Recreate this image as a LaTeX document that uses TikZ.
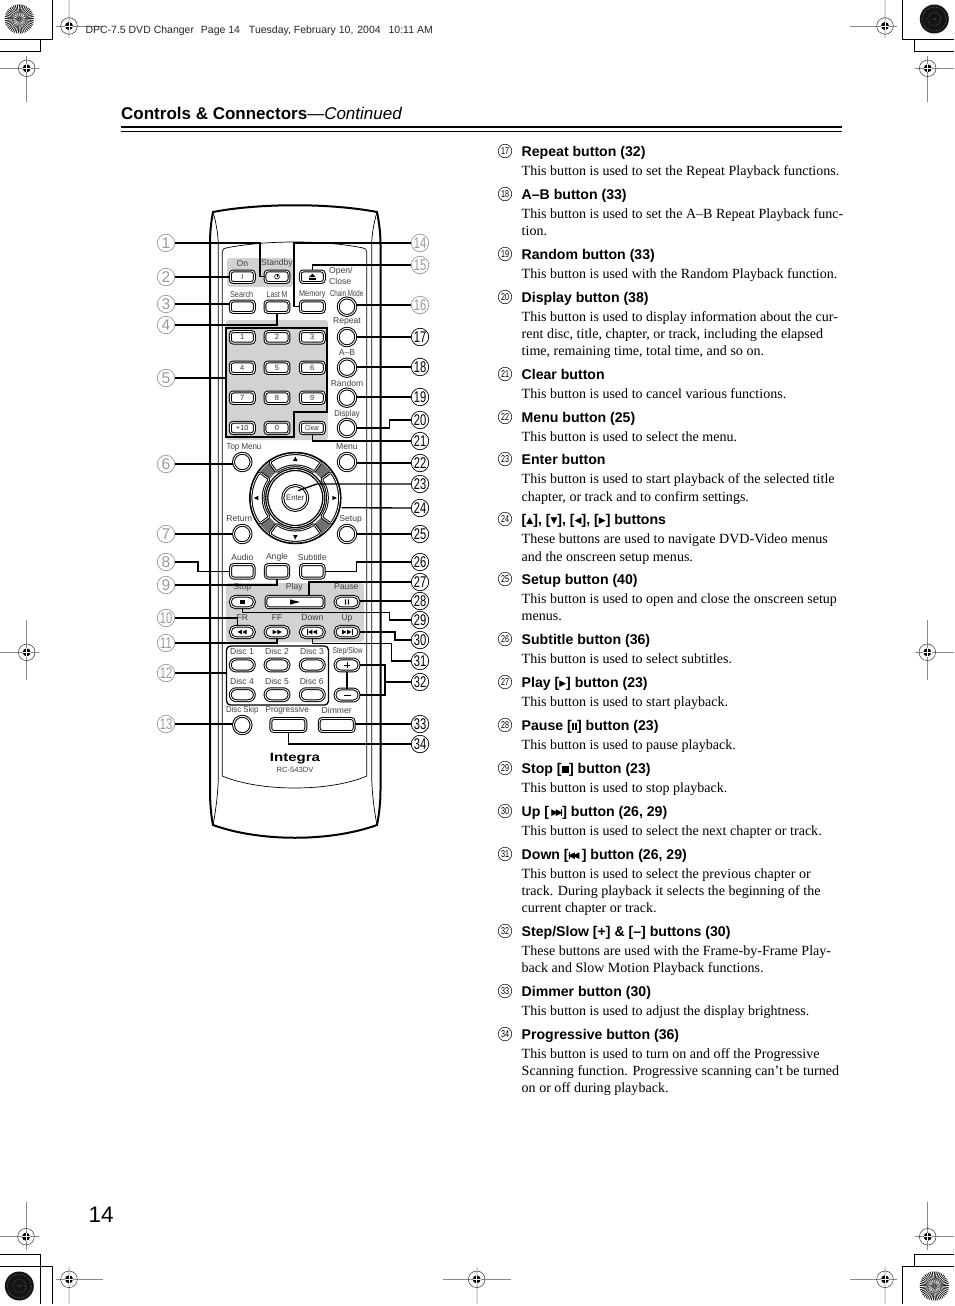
\documentclass[tikz,border=0pt]{standalone}
\usepackage{fontspec}
\usepackage{graphicx}
\setmainfont{Liberation Serif}
\setsansfont{Liberation Sans}
\newfontfamily\symf{DejaVu Sans}
\usetikzlibrary{calc}
\definecolor{panelgray}{HTML}{D2D2D2}
\definecolor{wedgegray}{HTML}{707070}
\definecolor{callgray}{HTML}{9A9A9A}
\definecolor{marklight}{HTML}{D8D8D8}
\definecolor{markdark}{HTML}{8A8A8A}
\newcommand\fsz[1]{\fontsize{#1}{#1}\selectfont}
\newcount\bodyc
\newcommand\hd[3]{%
  \node[numc] (n#1) at (505,#2-5) {\scalebox{.72}[1]{#1}};
  \node[headt] (h#1) at (521.5,#2) {#3};}
\newcommand\bd[2]{\global\advance\bodyc by 1
  \node[bodyt] (body\the\bodyc) at (521.5,#1) {#2};}
\newcommand\gly[1]{{\symf\fsz{9}\raisebox{.3pt}{#1}}}
\newcommand\tR{\gly{▶}}
\newcommand\tL{\gly{◀}}
\newcommand\regm[6]{%
  \draw[marktk] (#1,#5) -- (#1,#6);
  \draw[markhl] (#3,#2) -- (#4,#2);
  \draw[line width=.5,draw=black!80] (#1,#2) circle (8.3);
  \fill (#1,#2) circle (4);
  \draw[white,line width=.8] (#1-4.2,#2) -- (#1+4.2,#2) (#1,#2-4.2) -- (#1,#2+4.2);}
\newcommand\regmT[6]{%
  \draw[markv] (#1,#5) -- (#1,#6);
  \draw[markhl] (#3,#2) -- (#4,#2);
  \draw[line width=.5,draw=black!80] (#1,#2) circle (8.3);
  \fill (#1,#2) circle (4);
  \draw[white,line width=.8] (#1-4.2,#2) -- (#1+4.2,#2) (#1,#2-4.2) -- (#1,#2+4.2);}
\newcommand\burst[2]{%
  \begin{scope}[shift={(#1,#2)}]
    \fill[black] (0,0) circle (14.5);
    \foreach \a in {0,8,...,352}{
      \fill[white] (\a:14.6) -- (\a+3.6:14.6) -- (\a+1.8:3) -- cycle;}
    \foreach \a in {6,30,...,342}{
      \fill[white] (\a:6) -- (\a+8:6) -- (\a+4:1) -- cycle;}
    \fill[black!40] (0,0) circle (1);
  \end{scope}}
\newcommand\darkdisc[2]{%
  \begin{scope}[shift={(#1,#2)}]
    \fill[black!92] (0,0) circle (14.5);
    \draw[black!55,line width=.5,dash pattern=on .8 off 1.2] (0,0) circle (6.5);
    \draw[black!55,line width=.5,dash pattern=on .8 off 1.2] (0,0) circle (12);
    \fill[black!50] (-1.2,0) circle (.6) (1.2,0) circle (.6);
  \end{scope}}
\newcommand\trL[1]{\fill[xshift=#1 pt] (-2.2,0) -- (2.2,-2.3) -- (2.2,2.3) -- cycle;}
\newcommand\trR[1]{\fill[xshift=#1 pt] (2.2,0) -- (-2.2,-2.3) -- (-2.2,2.3) -- cycle;}
\tikzset{
  numc/.style={circle,draw,line width=.5,minimum size=13.5,inner sep=0,font=\sffamily\fsz{10}},
  headt/.style={anchor=base west,inner sep=0,font=\sffamily\bfseries\fsz{14.1}},
  bodyt/.style={anchor=base west,inner sep=0,font=\rmfamily\fsz{14.05}},
  markhl/.style={draw=markdark,line width=.6},
  marktk/.style={draw=marklight,line width=1.6},
  markv/.style={draw=markdark,line width=.7},
  cropl/.style={line width=.8},
  lbl/.style={inner sep=0,font=\sffamily\fsz{8.6},text=black!75},
  btn/.style={rectangle,draw,line width=1,double=white,double distance=.9,fill=white,rounded corners=3,
    minimum width=24,minimum height=11.5,inner sep=0,font=\sffamily\fsz{7.5},text=black!80},
  tall/.style={btn,minimum height=13.5,minimum width=23.5},
  pill/.style={btn,rounded corners=5.5},
  disc/.style={btn,rounded corners=6,minimum height=12},
  wide/.style={btn,minimum width=35,minimum height=13},
  rnd/.style={circle,draw,line width=1,double=white,double distance=.9,fill=white,minimum size=17.5,inner sep=0},
  conn/.style={line width=1.35},
  callG/.style={circle,draw=callgray,line width=.7,minimum size=17.5,inner sep=0,text=callgray,font=\sffamily\fsz{15.5},fill=white},
  callK/.style={circle,draw=black,line width=.7,minimum size=17.5,inner sep=0,text=black,font=\sffamily\fsz{15.5},fill=white},
  keyshape/.style={draw,line width=1,double=white,double distance=.7,fill=white,rounded corners=1.5},
}
\begin{document}
\begin{tikzpicture}[x=1pt,y=-1pt]
\useasboundingbox (0,0) rectangle (954,1306);
\fill[white] (0,0) rectangle (954,1306);

% ---------- printer marks
\draw[cropl] (52.3,0) -- (52.3,39.3) -- (0,39.3) (40.7,39.3) -- (40.7,51.7) -- (0,51.7);
\draw[cropl] (902.3,0) -- (902.3,39.3) -- (954,39.3) (914,39.3) -- (914,51.7) -- (954,51.7);
\draw[cropl] (0,1254.3) -- (40.7,1254.3) -- (40.7,1303.5) (0,1266.3) -- (52.3,1266.3) -- (52.3,1303.5);
\draw[cropl] (954,1254.3) -- (914,1254.3) -- (914,1266.3) (954,1266.3) -- (902.3,1266.3) -- (902.3,1303.5);
\burst{19.3}{19}
\darkdisc{934.3}{19}
\darkdisc{19.3}{1286}
\burst{934.3}{1286}
\regm{69}{26}{56}{103}{0}{38}
\regm{885}{26}{850}{897}{0}{38}
\regmT{26.7}{68.3}{0}{38.7}{56}{102}
\regmT{927.7}{68.3}{915}{954}{56}{102}
\regmT{26.7}{652.3}{0}{39}{620}{680}
\regmT{927.3}{652.3}{915}{954}{620}{680}
\regmT{26}{1236.7}{0}{38.7}{1202}{1250}
\regmT{927.7}{1236.7}{915}{954}{1202}{1250}
\regm{69}{1279.3}{56}{103}{1267}{1303.5}
\regm{476.7}{1279.3}{443}{511}{1267}{1303.5}
\regm{885}{1279.3}{850}{897}{1267}{1303.5}

% ---------- page header
\node[anchor=base west,inner sep=0,font=\sffamily\fsz{10.5},text=black!85] (runhead) at (85.3,33.7)
  {DPC-7.5 DVD Changer\hspace{4pt} Page 14\hspace{6pt} Tuesday, February 10,\hspace{1pt} 2004\hspace{5pt} 10:11 AM};
\node[anchor=base west,inner sep=0,font=\sffamily\fsz{17}] (title) at (121,119)
  {\textbf{Controls \& Connectors}—\textit{Continued}};
\fill (121,125.7) rectangle (841.5,128);
\fill (121,130.8) rectangle (841.5,131.8);
\node[anchor=base west,inner sep=0,font=\sffamily\fsz{22.5}] (pageno) at (88.5,1222.5) {14};

% ---------- remote body
\draw[line width=2] (213,212) .. controls (260,203) and (330,203) .. (377,212)
  .. controls (379,222) and (380.5,232) .. (380.5,245) -- (380.5,790)
  .. controls (380.5,803) and (379,815) .. (377,825)
  .. controls (330,842) and (260,842) .. (213,825)
  .. controls (211,815) and (210,803) .. (210,790) -- (210,245)
  .. controls (210,232) and (211,222) .. (213,212) -- cycle;
\draw[line width=.7] (213,212) .. controls (216,222) and (218.3,235) .. (218.3,245) -- (218.3,775) .. controls (218.3,790) and (216,810) .. (213,825);
\draw[line width=.7] (377,212) .. controls (374,222) and (371.7,235) .. (371.7,245) -- (371.7,775) .. controls (371.7,790) and (374,810) .. (377,825);
\draw[line width=.7] (222.3,252) .. controls (222.3,249) and (224,248.5) .. (226,248)
  .. controls (265,240) and (325,240) .. (363,248)
  .. controls (365.5,248.5) and (366.8,249.5) .. (366.8,252)
  -- (366.8,776) .. controls (330,792) and (260,792) .. (222.3,776) -- cycle;

% ---------- panels
\fill[panelgray,rounded corners=3] (227,258) rectangle (293,287);
\fill[panelgray,rounded corners=3] (226,320) rectangle (328,440);
\fill[panelgray,rounded corners=3] (226,583) rectangle (364,642);
\node[draw,line width=1.3,rounded corners=4,minimum width=102,minimum height=59,inner sep=0,fill=white] (discbox) at (277.5,675.5) {};
\coordinate (padW) at (226,378);
\draw[line width=1.4] (226,328) -- (327,328) -- (327,412) -- (294,412) -- (294,437) -- (226,437) -- cycle;

% ---------- buttons
\node[btn] (bOn) at (242.3,276.7) {I};
\node[btn] (bStandby) at (277,276.7) {};
\node[btn] (bOpen) at (312.3,276.7) {};
\node[btn] (bSearch) at (242.3,306.7) {};
\node[btn] (bLast) at (277,306.7) {};
\node[btn] (bMemory) at (312.3,306.7) {};
\foreach \nm/\y in {bChain/306.7,bRepeat/337,bAB/367.7,bRandom/397.7,bDisplay/428}
  {\node[rnd] (\nm) at (347,\y) {};}
\foreach \nm/\x/\y/\t in {k1/242.3/337.3/1,k2/277/337.3/2,k3/312.3/337.3/3,
  k4/242.3/367.7/4,k5/277/367.7/5,k6/312.3/367.7/6,
  k7/242.3/397.7/7,k8/277/397.7/8,k9/312.3/397.7/9,
  kten/242.3/428/+10,kzero/277/428/0}
  {\node[btn] (\nm) at (\x,\y) {\t};}
\node[btn,font=\sffamily\fsz{7}] (bClear) at (312.3,428) {\scalebox{.85}[1]{Clear}};
\node[rnd] (bTop) at (242.3,462) {};
\node[rnd] (bMenu) at (347,462) {};
\node[rnd] (bReturn) at (242.3,534) {};
\node[rnd] (bSetup) at (347,534) {};
\node[rnd] (bSkip) at (242.3,725) {};

% ---------- navigation pad
\node[circle,draw,line width=1.5,fill=white,minimum size=91,inner sep=0] (dpad) at (295.3,498) {};
\foreach \r in {45,135,225,315}{
  \begin{scope}[shift={(dpad.center)},rotate=\r]
    \draw[wedgegray,line width=11] (0,-32) -- (0,-44);
  \end{scope}}
\foreach \r in {0,90,180,270}{
  \begin{scope}[shift={(dpad.center)},rotate=\r]
    \draw[keyshape] (-25.9,-35.6) .. controls (-10.5,-46.8) and (10.5,-46.8) .. (25.9,-35.6)
      -- (18.8,-25.9) .. controls (7.6,-34) and (-7.6,-34) .. (-18.8,-25.9) -- cycle;
    \fill (0,-41.5) -- (2.2,-37) -- (-2.2,-37) -- cycle;
  \end{scope}}
\node[circle,draw,line width=1.3,double=white,double distance=.7,fill=white,minimum size=57,inner sep=0] (ring) at (dpad.center) {};
\node[rnd,minimum size=25,font=\sffamily\fsz{8},text=black!80] (bEnter) at (dpad.center) {\scalebox{.95}[1]{Enter}};
\coordinate (enterTip) at (298,490.7);
\coordinate (dpadTip) at (341.5,507.7);

\node[tall] (bAudio) at (242.3,571.3) {};
\node[tall] (bAngle) at (277,571.3) {};
\node[tall] (bSubtitle) at (312.3,571.3) {};
\node[pill] (bStop) at (242.3,602) {};
\node[btn,minimum width=58,minimum height=11.5] (bPlay) at (295,602) {};
\node[pill] (bPause) at (347,602) {};
\node[pill] (bFR) at (242.3,632) {};
\node[pill] (bFF) at (277,632) {};
\node[pill] (bDown) at (312.3,632) {};
\node[pill] (bUp) at (347,632) {};
\foreach \nm/\x/\y in {d1/242.3/665,d2/277/665,d3/312.3/665,d4/242.3/694.7,d5/277/694.7,d6/312.3/694.7}
  {\node[disc] (\nm) at (\x,\y) {};}
\node[disc] (bPlus) at (347,665) {};
\node[disc] (bMinus) at (347,695) {};
\node[wide] (bProg) at (288.3,725) {};
\node[wide] (bDimmer) at (336.7,725) {};

% ---------- button icons
\begin{scope}[shift={(bStandby.center)}]
  \draw[line width=.6] (0,0) circle (2.4);
  \draw[line width=.6] (0,-3.2) -- (0,.3);
\end{scope}
\begin{scope}[shift={(bOpen.center)}]
  \fill (0,-3) -- (3.4,.4) -- (-3.4,.4) -- cycle;
  \fill (-3.4,1.5) rectangle (3.4,2.8);
\end{scope}
\begin{scope}[shift={(bStop.center)}]
  \fill (-2.4,-2.4) rectangle (2.4,2.4);
\end{scope}
\begin{scope}[shift={(bPlay.center)}]
  \fill (5,0) -- (-5,-2.6) -- (-5,2.6) -- cycle;
\end{scope}
\begin{scope}[shift={(bPause.center)}]
  \fill (-2.2,-2.6) rectangle (-.8,2.6) (.8,-2.6) rectangle (2.2,2.6);
\end{scope}
\begin{scope}[shift={(bFR.center)}]
  \trL{-2.6}\trL{2.2}
\end{scope}
\begin{scope}[shift={(bFF.center)}]
  \trR{-2.2}\trR{2.6}
\end{scope}
\begin{scope}[shift={(bDown.center)}]
  \fill (-5.6,-2.6) rectangle (-4.8,2.6);
  \trL{-2.2}\trL{2.6}
\end{scope}
\begin{scope}[shift={(bUp.center)}]
  \fill (5.6,-2.6) rectangle (4.8,2.6);
  \trR{2.2}\trR{-2.6}
\end{scope}
\begin{scope}[shift={(bPlus.center)}]
  \draw[line width=.8] (-3,0) -- (3,0) (0,-3) -- (0,3);
\end{scope}
\begin{scope}[shift={(bMinus.center)}]
  \draw[line width=.8] (-3.5,0) -- (3.5,0);
\end{scope}

% ---------- remote labels
\foreach \nm/\x/\y/\t in {lOn/242.3/263.5/On,lStandby/277/263.5/Standby,lLast/277/294.3/{\scalebox{.8}[1]{Last M}},
  lSearch/241.7/294.3/{\scalebox{.85}[1]{Search}},lMemory/312.3/294.3/{\scalebox{.85}[1]{Memory}},
  lChain/346.7/293.3/{\scalebox{.72}[1]{Chain Mode}},lRepeat/347/321/Repeat,lAB/347/352.7/A–B,
  lRandom/347/383/Random,lDisplay/347/414/{\scalebox{.9}[1]{Display}},lTop/244/447.7/{\scalebox{.92}[1]{Top Menu}},
  lMenu/347/446.7/Menu,lReturn/239.3/519/Return,lSetup/350.7/519/Setup,lAudio/242.3/557/Audio,
  lAngle/277/557/Angle,lSubtitle/312.3/557/Subtitle,lStop/242.3/587/Stop,lPlay/294.3/587/Play,lPause/346.3/587/Pause,
  lFR/242.3/618/FR,lFF/277/618/FF,lDown/312.3/618/Down,lUp/347/618/Up,
  lD1/242/651.7/Disc 1,lD2/277/651.7/Disc 2,lD3/312/651.7/Disc 3,
  lD4/242/681.7/Disc 4,lD5/277/681.7/Disc 5,lD6/311.7/681.7/Disc 6,
  lStep/347.7/651.3/{\scalebox{.78}[1]{Step/Slow}},lSkip/242.3/710/{\scalebox{.9}[1]{Disc Skip}},
  lProg/287.3/710/{\scalebox{.95}[1]{Progressive}},lDimmer/336.7/710/Dimmer}
  {\node[lbl] (\nm) at (\x,\y) {\t};}
\node[lbl,anchor=west] (lOpen) at (329,271.7) {Open/};
\node[lbl,anchor=west] (lClose) at (329,281) {Close};
\node[inner sep=0,font=\sffamily\bfseries\fsz{12}] (logo) at (295,758.3) {\scalebox{1.25}[1]{Integra}};
\node[inner sep=0,font=\sffamily\fsz{7.6},text=black!75] (model) at (295,770) {RC-543DV};

% ---------- callout circles
\foreach \n/\y in {1/243,2/277,3/304,4/325,5/378,6/464,7/534,8/562,9/585,10/618,11/643,12/673,13/724}
  {\node[callG] (c\n) at (166,\y) {\ifnum\n<10 \n\else\scalebox{.72}[1]{\n}\fi};}
\foreach \n/\y in {14/243,15/265,16/305}
  {\node[callG] (c\n) at (420,\y) {\scalebox{.72}[1]{\n}};}
\foreach \n/\y in {17/337,18/367,19/397,20/420,21/441,22/463,23/484,24/508,25/534,26/562,27/582,28/601,29/620,30/640,31/661,32/682,33/724,34/744}
  {\node[callK] (c\n) at (420,\y) {\scalebox{.72}[1]{\n}};}

% ---------- connectors
\draw[conn] (c1.east) -- ++(85,0) |- (bStandby.west);
\draw[conn] (c2.east) -- (c2.east -| bOn.west);
\draw[conn] (c3.east) -- (c3.east -| bSearch.west);
\draw[conn] (c4.east) -| (bLast.south);
\draw[conn] (c5.east) -- (padW);
\draw[conn] (c6.east) -- (c6.east -| bTop.west);
\draw[conn] (c7.east) -- (c7.east -| bReturn.west);
\draw[conn] (c8.east) -- ++(23,0) |- (bAudio.west);
\draw[conn] (c9.east) -| (bAngle.south);
\draw[conn] (c10.east) -| ($(bFR.north)+(-5,0)$);
\draw[conn] (c11.east) -| (bFF.south);
\draw[conn] (c12.east) -- (c12.east -| discbox.west);
\draw[conn] (c13.east) -- (c13.east -| bSkip.west);
\draw[conn] (c14.west) -- ++(-117,0) |- (bMemory.west);
\draw[conn] (c15.west) -| (bOpen.north);
\draw[conn] (c16.west) -- (c16.west -| bChain.east);
\draw[conn] (c17.west) -- (c17.west -| bRepeat.east);
\draw[conn] (c18.west) -- (c18.west -| bAB.east);
\draw[conn] (c19.west) -- (c19.west -| bRandom.east);
\draw[conn] (c20.west) -- ++(-21.7,0) |- (bDisplay.east);
\draw[conn] (c21.west) -| (bClear.south);
\draw[conn] (c22.west) -- (c22.west -| bMenu.east);
\draw[conn] (c23.west) -- ++(-94,0) -- (enterTip);
\draw[conn] (c24.west) -- (dpadTip);
\draw[conn] (c25.west) -- (c25.west -| bSetup.east);
\draw[conn] (c26.west) -- ++(-54.3,0) |- (bSubtitle.east);
\draw[conn] (c27.west) -| ($(bPlay.north)+(14,0)$);
\draw[conn] (c28.west) -- (c28.west -| bPause.east);
\draw[conn] (c29.west) -- ++(-21.7,0) -- ++(0,-7.5) -| (bStop.south);
\draw[conn] (c30.west) -- ++(-16,0) |- (bUp.east);
\draw[conn] (c31.west) -- ++(-19.3,0) -- ++(0,-17.5) -| (bDown.south);
\draw[conn] (c32.west) -- ++(-26,0);
\draw[conn] (bPlus.east) -| ($(c32.west)+(-26,0)$) |- (bMinus.east);
\draw[conn] (bPlus.south) -- (bMinus.north);
\draw[conn] (c33.west) -- (c33.west -| bDimmer.east);
\draw[conn] (c34.west) -| (bProg.south);

% ---------- text column
\hd{17}{156}{Repeat button (32)}
\bd{175}{This button is used to set the Repeat Playback functions.}
\hd{18}{199}{A–B button (33)}
\bd{218}{This button is used to set the A–B Repeat Playback func-}
\bd{235}{tion.}
\hd{19}{259}{Random button (33)}
\bd{278}{This button is used with the Random Playback function.}
\hd{20}{302}{Display button (38)}
\bd{321}{This button is used to display information about the cur-}
\bd{338}{rent disc, title, chapter, or track, including the elapsed}
\bd{355}{time, remaining time, total time, and so on.}
\hd{21}{379}{Clear button}
\bd{398}{This button is used to cancel various functions.}
\hd{22}{422}{Menu button (25)}
\bd{441}{This button is used to select the menu.}
\hd{23}{464}{Enter button}
\bd{483}{This button is used to start playback of the selected title}
\bd{501}{chapter, or track and to confirm settings.}
\hd{24}{524}{[\gly{▲}], [\gly{▼}], [\gly{◀}], [\gly{▶}] buttons}
\bd{543}{These buttons are used to navigate DVD-Video menus}
\bd{561}{and the onscreen setup menus.}
\hd{25}{584}{Setup button (40)}
\bd{603}{This button is used to open and close the onscreen setup}
\bd{620}{menus.}
\hd{26}{644}{Subtitle button (36)}
\bd{663}{This button is used to select subtitles.}
\hd{27}{687}{Play [\tR] button (23)}
\bd{706}{This button is used to start playback.}
\hd{28}{730}{Pause [\rule{2pt}{7.5pt}\kern1.2pt\rule{2pt}{7.5pt}] button (23)}
\bd{749}{This button is used to pause playback.}
\hd{29}{773}{Stop [\rule{7.5pt}{7.5pt}] button (23)}
\bd{792}{This button is used to stop playback.}
\hd{30}{816}{Up [\,\tR\kern-2.5pt\tR\kern-1.5pt\rule{1pt}{7pt}] button (26, 29)}
\bd{835}{This button is used to select the next chapter or track.}
\hd{31}{859}{Down [\rule{1pt}{7pt}\kern-1.5pt\tL\kern-2.5pt\tL\,] button (26, 29)}
\bd{878}{This button is used to select the previous chapter or}
\bd{895}{track. During playback it selects the beginning of the}
\bd{912}{current chapter or track.}
\hd{32}{936}{Step/Slow [+] \& [–] buttons (30)}
\bd{955}{These buttons are used with the Frame-by-Frame Play-}
\bd{972}{back and Slow Motion Playback functions.}
\hd{33}{996}{Dimmer button (30)}
\bd{1015}{This button is used to adjust the display brightness.}
\hd{34}{1039}{Progressive button (36)}
\bd{1058}{This button is used to turn on and off the Progressive}
\bd{1075}{Scanning function. Progressive scanning can’t be turned}
\bd{1092}{on or off during playback.}
\end{tikzpicture}
\end{document}
